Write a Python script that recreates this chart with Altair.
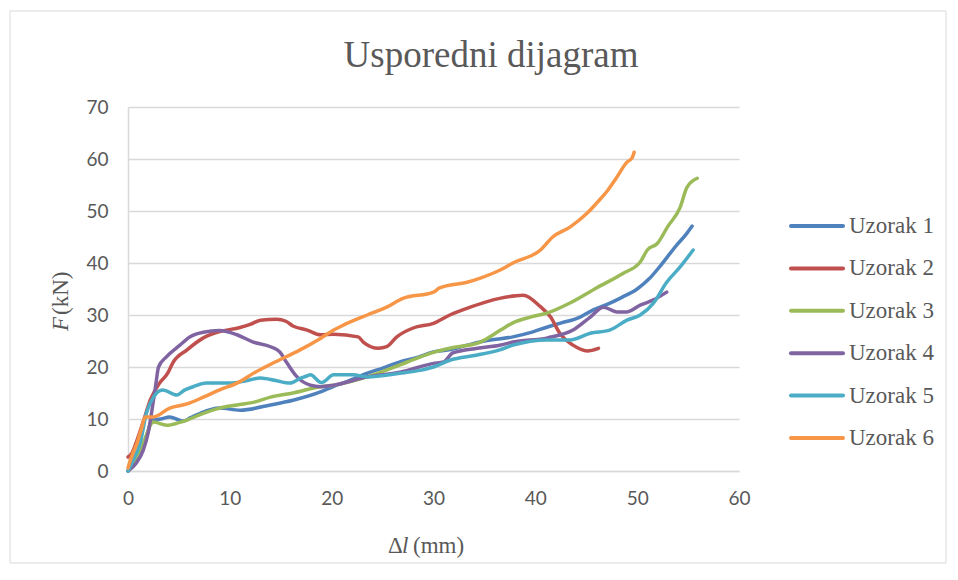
import altair as alt
import pandas as pd

names = ["Uzorak 1", "Uzorak 2", "Uzorak 3", "Uzorak 4", "Uzorak 5", "Uzorak 6"]
colors = ["#4F81BD", "#C0504D", "#9BBB59", "#8064A2", "#4BACC6", "#F79646"]

x1 = [0, 0.8, 1.7, 2.4, 3.2, 4.1, 5.0, 5.4, 6.2, 7.1, 9.0, 11.0, 14.0, 16.2, 18.9, 20.1, 21.5, 23.5, 25.0, 26.7,
      28.5, 30.0, 31.5, 33.3, 35.0, 37.8, 39.5, 41.2, 42.4, 44.4, 45.5, 47.0, 48.5, 50.0, 51.2, 52.3, 53.9, 54.8, 55.4]
y1 = [0, 2.5, 6.0, 9.8, 10.0, 10.4, 9.8, 9.6, 10.3, 11.1, 12.1, 11.7, 12.7, 13.6, 15.2, 16.2, 17.2, 18.8, 19.8, 21.0,
      21.9, 22.9, 23.3, 24.2, 25.0, 25.8, 26.6, 27.7, 28.4, 29.6, 30.8, 32.0, 33.4, 35.0, 37.0, 39.5, 43.5, 45.5, 47.1]

x2 = [0, 0.4, 0.9, 1.5, 2.2, 3.1, 3.9, 4.4, 5.8, 7.4, 9.0, 11.0, 12.0, 13.0, 14.6, 15.5, 16.2, 17.6, 18.9, 20.2,
      22.6, 23.1, 24.6, 25.4, 26.4, 28.0, 30.0, 31.6, 33.6, 36.5, 38.8, 40.5, 41.5, 42.4, 43.7, 45.1, 46.2]
y2 = [2.7, 3.5, 6.0, 9.5, 13.7, 16.9, 18.8, 20.8, 23.3, 25.6, 26.8, 27.6, 28.2, 29.0, 29.2, 28.8, 27.9, 27.1, 26.2, 26.3,
      25.8, 24.8, 23.6, 23.9, 25.8, 27.5, 28.4, 30.0, 31.5, 33.2, 33.8, 31.6, 29.6, 26.5, 24.2, 23.1, 23.6]

x3 = [0, 0.8, 1.5, 2.5, 3.8, 5.0, 5.8, 7.4, 9.0, 10.7, 12.5, 14.0, 16.2, 18.9, 20.2, 23.5, 26.7, 28.4, 30.0, 31.6,
      34.6, 36.5, 37.8, 39.5, 41.2, 43.4, 46.0, 48.6, 50.3, 51.0, 52.0, 53.0, 54.2, 54.9, 55.9]
y3 = [0, 2.5, 5.4, 9.4, 8.8, 9.3, 9.8, 11.1, 12.1, 12.7, 13.3, 14.2, 15.0, 16.2, 16.5, 18.1, 20.4, 21.7, 22.8, 23.6,
      24.8, 27.0, 28.5, 29.6, 30.4, 32.3, 35.2, 38.0, 40.2, 42.5, 43.8, 47.0, 50.6, 54.6, 56.3]

x4 = [0, 0.8, 1.5, 2.0, 2.4, 2.7, 3.0, 3.8, 5.1, 6.1, 7.4, 9.0, 10.7, 12.3, 14.0, 14.9, 15.6, 16.6, 17.9, 18.9,
      20.2, 23.5, 26.7, 30.0, 31.0, 31.9, 34.3, 36.5, 37.8, 41.2, 43.7, 45.4, 46.7, 48.0, 49.0, 50.3, 51.6, 52.9]
y4 = [0, 1.5, 4.0, 7.5, 12.3, 16.2, 20.0, 22.0, 24.2, 25.8, 26.7, 27.0, 26.2, 24.8, 23.9, 22.9, 20.8, 18.1, 16.5, 16.2,
      16.5, 18.1, 19.0, 20.7, 21.0, 22.7, 23.6, 24.2, 24.8, 25.6, 27.1, 29.6, 31.5, 30.6, 30.6, 31.9, 32.9, 34.4]

x5 = [0, 0.6, 1.2, 1.8, 2.5, 3.4, 4.8, 5.5, 6.4, 7.7, 9.0, 10.0, 11.5, 13.0, 14.5, 15.9, 16.9, 17.6, 17.9, 19.0,
      20.2, 22.1, 23.5, 26.7, 28.5, 30.0, 31.6, 34.3, 36.5, 37.8, 41.2, 43.4, 45.4, 47.3, 49.0, 50.3, 51.6, 52.9, 54.2, 55.5]
y5 = [0, 2.5, 5.4, 11.1, 14.2, 15.6, 14.6, 15.5, 16.2, 16.9, 16.9, 16.9, 17.3, 17.9, 17.4, 16.9, 17.8, 18.3, 18.5, 17.0,
      18.5, 18.5, 18.1, 18.8, 19.3, 20.0, 21.3, 22.3, 23.3, 24.2, 25.2, 25.2, 26.5, 27.1, 29.0, 30.0, 32.3, 36.3, 39.2, 42.5]

x6 = [0, 0.4, 0.9, 1.3, 1.7, 2.5, 4.1, 5.8, 7.4, 9.0, 10.7, 12.5, 14.5, 16.9, 18.9, 20.2, 21.1, 23.5, 25.4, 27.0,
      30.0, 30.6, 33.3, 34.6, 36.5, 37.8, 40.5, 41.7, 43.4, 45.1, 46.1, 47.0, 48.0, 49.0, 49.5, 49.7]
y6 = [0.6, 3.0, 5.4, 8.0, 10.4, 10.4, 12.1, 12.9, 14.2, 15.6, 16.9, 19.0, 21.0, 23.3, 25.5, 27.1, 28.0, 30.0, 31.5, 33.2,
      34.4, 35.2, 36.3, 37.1, 38.6, 40.0, 42.5, 45.0, 46.9, 49.6, 51.7, 53.7, 56.5, 59.4, 60.2, 61.3]

x_ticks = [0, 10, 20, 30, 40, 50, 60]
y_ticks = [0, 10, 20, 30, 40, 50, 60, 70]
title_text = "Usporedni dijagram"

rows = []
for name, xs, ys in zip(names, [x1, x2, x3, x4, x5, x6], [y1, y2, y3, y4, y5, y6]):
    for i, (xv, yv) in enumerate(zip(xs, ys)):
        rows.append({"name": name, "x": xv, "y": yv, "i": i})
df = pd.DataFrame(rows)

W, H = 611, 364
GRAY = "#595959"
SERIF = "Liberation Serif"
SANS = "Lato"

color_scale = alt.Scale(domain=names, range=colors)

border = alt.Chart(pd.DataFrame({"a": [0]})).mark_rect(
    fill=None, stroke="#d9d9d9", strokeWidth=1
).encode(x=alt.value(-118), x2=alt.value(818), y=alt.value(-96), y2=alt.value(456))

lines = alt.Chart(df).mark_line(strokeWidth=3.5, interpolate="monotone", strokeCap="round").encode(
    x=alt.X("x:Q", scale=alt.Scale(domain=[0, 60], nice=False),
            axis=alt.Axis(values=x_ticks, title=None, grid=False, ticks=False, labelFlush=False,
                          domainColor="#d9d9d9", domainWidth=1.5, labelPadding=18)),
    y=alt.Y("y:Q", scale=alt.Scale(domain=[0, 70], nice=False),
            axis=alt.Axis(values=y_ticks, title=None, grid=True, gridColor="#d9d9d9", labelFlush=False,
                          gridWidth=1.5, ticks=False, domainColor="#d9d9d9", domainWidth=1.5,
                          labelPadding=20)),
    color=alt.Color("name:N", scale=color_scale, legend=None),
    order=alt.Order("i:Q"),
)

leg_df = pd.DataFrame({"name": names})
leg_y = alt.Y("name:N", scale=alt.Scale(type="point", domain=names, range=[119, 331], padding=0), axis=None)
leg_rules = alt.Chart(leg_df).mark_rule(strokeWidth=4, strokeCap="round").encode(
    x=alt.value(663), x2=alt.value(715), y=leg_y,
    color=alt.Color("name:N", scale=color_scale, legend=None),
)
leg_text = alt.Chart(leg_df).mark_text(
    align="left", baseline="middle", font=SERIF, fontSize=23, color=GRAY
).encode(x=alt.value(721), y=leg_y, text="name:N")

title = alt.Chart(pd.DataFrame({"t": [title_text]})).mark_text(
    align="center", baseline="alphabetic", font=SERIF, fontSize=37, color=GRAY
).encode(x=alt.value(363), y=alt.value(-40), text="t:N")

xt_parts = []
for t, px, st in zip(["Δ", "l", "(mm)"], [260, 274, 285], ["normal", "italic", "normal"]):
    xt_parts.append(
        alt.Chart(pd.DataFrame({"t": [t]})).mark_text(
            align="left", baseline="alphabetic", font=SERIF, fontSize=23, color=GRAY, fontStyle=st
        ).encode(x=alt.value(px), y=alt.value(446), text="t:N")
    )

yt_parts = []
for t, py, st in zip(["F", "(kN)"], [224, 208], ["italic", "normal"]):
    yt_parts.append(
        alt.Chart(pd.DataFrame({"t": [t]})).mark_text(
            align="left", baseline="alphabetic", font=SERIF, fontSize=23, color=GRAY,
            fontStyle=st, angle=270
        ).encode(x=alt.value(-60), y=alt.value(py), text="t:N")
    )

chart = alt.layer(border, lines, leg_rules, leg_text, title, *xt_parts, *yt_parts).resolve_scale(
    y="independent"
).properties(
    width=W, height=H,
    autosize=alt.AutoSizeParams(type="none"),
    padding={"left": 120, "top": 99, "right": 209, "bottom": 95},
).configure_view(stroke=None).configure_axis(
    labelColor=GRAY, labelFont=SANS, labelFontSize=19
)

chart.save("out.html", embed_options={"renderer": "svg", "actions": False})
